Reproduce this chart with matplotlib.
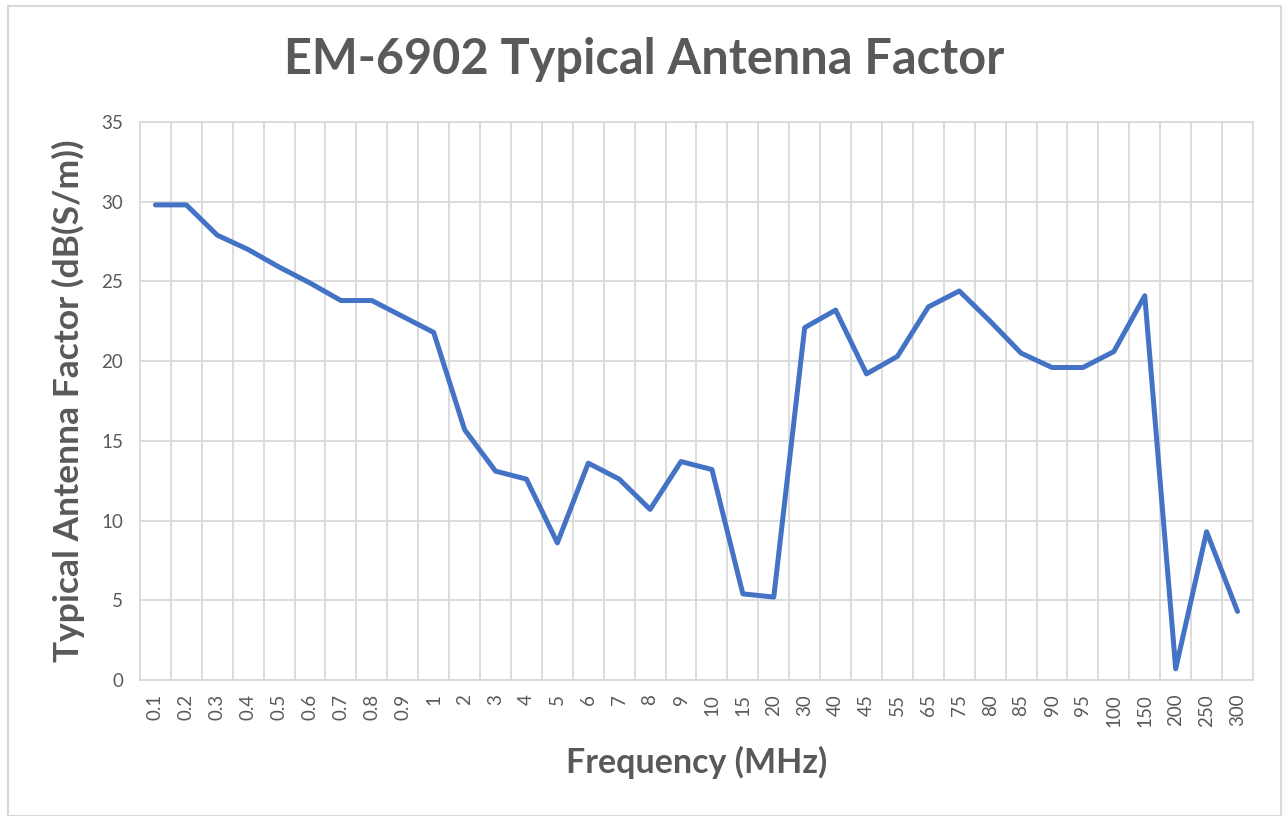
import matplotlib.pyplot as plt
import numpy as np
from matplotlib.patches import Rectangle

# Frequency categories (MHz) and typical antenna factor values
freq_labels = ["0.1", "0.2", "0.3", "0.4", "0.5", "0.6", "0.7", "0.8", "0.9", "1",
               "2", "3", "4", "5", "6", "7", "8", "9", "10", "15", "20",
               "30", "40", "45", "55", "65", "75", "80", "85", "90", "95", "100",
               "150", "200", "250", "300"]
antenna_factor = [29.8, 29.8, 27.9, 27.0, 25.9, 24.9, 23.8, 23.8, 22.8, 21.8,
                  15.7, 13.1, 12.6, 8.6, 13.6, 12.6, 10.7, 13.7, 13.2, 5.4, 5.2,
                  22.1, 23.2, 19.2, 20.3, 23.4, 24.4, 22.5, 20.5, 19.6, 19.6, 20.6,
                  24.1, 0.7, 9.3, 4.3]
y_ticks = [0, 5, 10, 15, 20, 25, 30, 35]

text_gray = "#595959"
grid_gray = "#d9d9d9"

plt.rcParams["font.family"] = ["Lato", "DejaVu Sans"]

fig = plt.figure(figsize=(12.83, 8.16), dpi=100)
ax = fig.add_axes([0.1091, 0.1667, 0.8675, 0.6838])

x = np.arange(len(freq_labels))
ax.plot(x, antenna_factor, color="#4472C4", linewidth=3.6, solid_joinstyle="round",
        solid_capstyle="round", zorder=3)

ax.set_xlim(-0.5, len(freq_labels) - 0.5)
ax.set_ylim(0, 35)
ax.set_yticks(y_ticks)
ax.set_xticks(x)
ax.set_xticklabels(freq_labels, rotation=90)
ax.set_xticks(x[:-1] + 0.5, minor=True)

ax.grid(axis="y", which="major", color=grid_gray, linewidth=1.3)
ax.grid(axis="x", which="minor", color=grid_gray, linewidth=1.3)
ax.set_axisbelow(True)
for s in ax.spines.values():
    s.set_color(grid_gray)
    s.set_linewidth(1.3)

ax.tick_params(axis="both", which="both", length=0, labelsize=13.5, labelcolor=text_gray)
ax.tick_params(axis="x", pad=10)
ax.tick_params(axis="y", pad=12)

ax.set_xlabel("Frequency (MHz)", fontsize=24.5, fontweight="bold", color=text_gray, labelpad=14)
ax.set_ylabel("Typical Antenna Factor (dB(S/m))", fontsize=25.5, fontweight="bold",
              color=text_gray, labelpad=12)
fig.text(0.502, 0.927, "EM-6902 Typical Antenna Factor", ha="center", va="center",
         fontsize=35, fontweight="bold", color=text_gray)

# outer chart border
fig.patches.append(Rectangle((8 / 1283, 0), 1 - 10 / 1283, 1 - 6 / 816,
                             transform=fig.transFigure, fill=False,
                             edgecolor=grid_gray, linewidth=1.5))

fig.savefig("out.png", dpi=100)
